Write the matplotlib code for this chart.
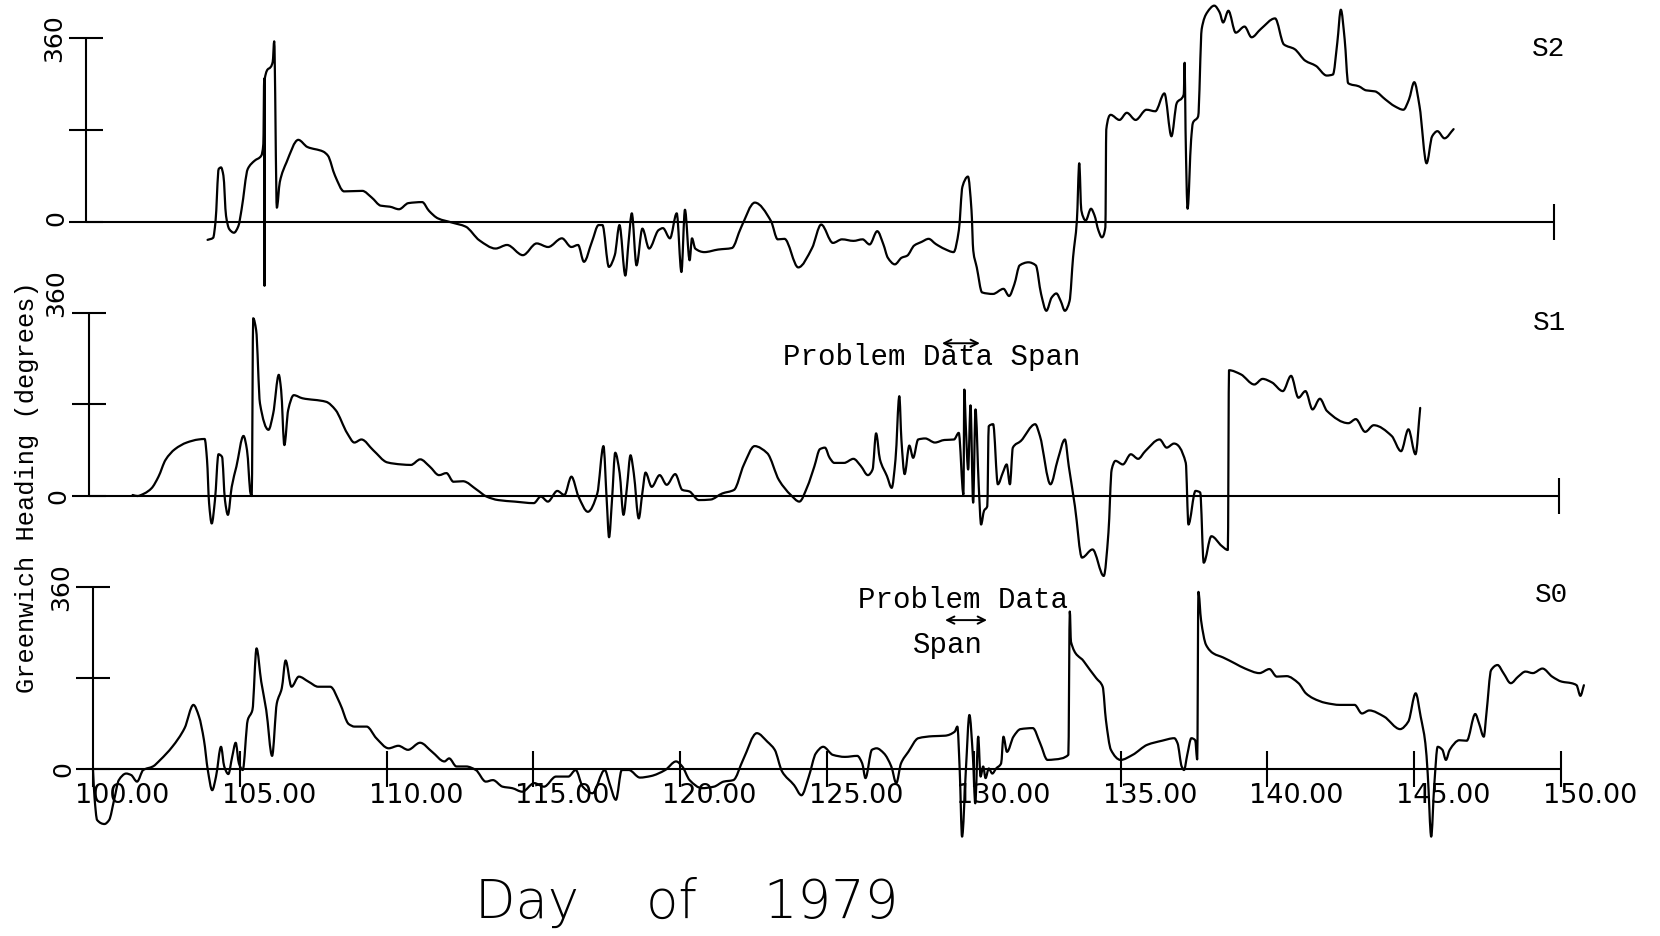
import numpy as np
import matplotlib
matplotlib.use("Agg")
import matplotlib.pyplot as plt
from matplotlib.path import Path
from matplotlib.patches import PathPatch
from matplotlib.transforms import offset_copy

# ---------------------------------------------------------------
# Greenwich heading of the three sensors, day of 1979 vs degrees
# ---------------------------------------------------------------
s2_day = [104.14, 104.33, 104.41, 104.52, 104.60, 104.68, 104.77, 104.88, 105.04, 105.19,
          105.30, 105.51, 105.74, 105.97, 106.04, 106.07, 106.08, 106.09, 106.36, 106.41,
          106.50, 106.60, 106.83, 107.23, 107.54, 108.08, 108.24, 108.48, 108.79, 109.41,
          109.73, 110.04, 110.35, 110.66, 110.98, 111.45, 111.68, 111.99, 112.46, 112.93,
          113.40, 113.95, 114.34, 114.88, 115.35, 115.74, 116.21, 116.53, 116.76, 116.96,
          117.23, 117.46, 117.59, 117.81, 118.01, 118.17, 118.37, 118.48, 118.59, 118.75,
          118.95, 119.18, 119.50, 119.65, 119.89, 120.12, 120.28, 120.40, 120.56, 120.64,
          120.75, 121.06, 121.53, 122.00, 122.31, 122.78, 123.33, 123.56, 123.79, 124.26,
          124.73, 125.04, 125.44, 125.75, 126.14, 126.45, 126.69, 126.95, 127.16, 127.31,
          127.55, 127.78, 127.97, 128.21, 128.46, 128.70, 128.94, 129.25, 129.55, 129.73,
          129.85, 130.04, 130.16, 130.22, 130.34, 130.52, 130.89, 131.25, 131.44, 131.62,
          131.80, 132.10, 132.35, 132.53, 132.71, 132.89, 133.05, 133.20, 133.34, 133.50,
          133.62, 133.75, 133.83, 133.90, 134.05, 134.23, 134.35, 134.48, 134.60, 134.72,
          134.75, 134.90, 135.20, 135.45, 135.75, 136.12, 136.42, 136.73, 136.97, 137.15,
          137.39, 137.42, 137.45, 137.52, 137.64, 137.70, 137.88, 138.00, 138.19, 138.43,
          138.61, 138.73, 138.91, 139.16, 139.46, 139.70, 140.01, 140.50, 140.80, 141.16,
          141.53, 141.89, 142.26, 142.47, 142.62, 142.74, 142.87, 142.99, 143.35, 143.60,
          143.90, 144.26, 144.57, 144.87, 145.06, 145.24, 145.42, 145.66, 145.85, 146.03,
          146.27, 146.58]
s2_deg = [-35, -31, 0, 104, 107, 91, 12, -14, -21, -8,
          25, 104, 120, 130, 153, 281, -125, 281, 314, 354,
          28, 78, 117, 161, 147, 138, 130, 91, 60, 61,
          48, 32, 30, 25, 37, 39, 22, 7, -1, -9,
          -36, -52, -45, -65, -42, -49, -32, -49, -45, -78,
          -39, -6, -6, -88, -65, -6, -105, -39, 17, -85,
          -13, -52, -16, -12, -32, 17, -98, 24, -75, -32,
          -52, -59, -54, -51, -11, 38, 2, -34, -33, -89,
          -51, -5, -41, -34, -37, -34, -44, -18, -44, -70,
          -83, -70, -66, -46, -39, -33, -43, -53, -59, -16,
          69, 89, 23, -56, -89, -138, -141, -131, -145, -122,
          -85, -79, -85, -141, -174, -148, -140, -155, -174, -155,
          -69, 3, 115, 23, 3, 26, 13, -16, -30, -10,
          181, 210, 200, 214, 200, 220, 217, 252, 168, 233,
          250, 312, 181, 26, 161, 194, 207, 378, 411, 424,
          411, 391, 414, 371, 383, 362, 378, 399, 348, 339,
          316, 306, 287, 289, 352, 416, 358, 272, 266, 258,
          256, 240, 227, 220, 240, 274, 227, 115, 168, 178,
          164, 182]

s1_day = [101.50, 101.66, 101.90, 102.14, 102.38, 102.62, 102.94, 103.34, 103.74, 103.95,
          104.03, 104.10, 104.19, 104.30, 104.42, 104.54, 104.64, 104.74, 104.87, 105.03,
          105.27, 105.39, 105.51, 105.55, 105.60, 105.70, 105.83, 106.12, 106.28, 106.47,
          106.55, 106.66, 106.79, 106.98, 107.27, 108.08, 108.40, 108.80, 109.04, 109.28,
          109.68, 110.16, 110.64, 110.96, 111.28, 111.60, 111.92, 112.17, 112.41, 112.73,
          113.21, 113.53, 113.93, 114.49, 115.14, 115.38, 115.62, 115.94, 116.18, 116.42,
          116.66, 116.98, 117.30, 117.51, 117.62, 117.70, 117.80, 117.91, 118.06, 118.19,
          118.31, 118.43, 118.54, 118.71, 118.83, 118.94, 119.15, 119.42, 119.66, 119.95,
          120.19, 120.43, 120.75, 121.15, 121.55, 121.95, 122.28, 122.65, 123.08, 123.48,
          123.88, 124.17, 124.44, 124.68, 124.87, 125.04, 125.20, 125.36, 125.69, 126.01,
          126.26, 126.50, 126.66, 126.78, 126.91, 127.15, 127.31, 127.44, 127.57, 127.64,
          127.75, 127.91, 128.04, 128.21, 128.45, 128.78, 129.10, 129.43, 129.59, 129.75,
          129.78, 129.83, 129.91, 129.99, 130.08, 130.16, 130.27, 130.35, 130.45, 130.56,
          130.61, 130.76, 130.92, 131.09, 131.22, 131.33, 131.43, 131.70, 132.19, 132.35,
          132.71, 132.96, 133.20, 133.33, 133.54, 133.78, 134.14, 134.52, 134.68, 134.79,
          134.92, 135.17, 135.44, 135.69, 135.93, 136.42, 136.66, 136.91, 137.31, 137.40,
          137.64, 137.80, 137.92, 138.18, 138.53, 138.74, 138.78, 139.18, 139.64, 139.92,
          140.24, 140.61, 140.89, 141.14, 141.38, 141.62, 141.87, 142.11, 142.84, 143.09,
          143.41, 143.70, 144.31, 144.63, 144.88, 145.12, 145.28]
s1_deg = [2, 0, 5, 15, 38, 71, 92, 105, 111, 112,
          71, -14, -54, -8, 82, 77, -8, -37, 18, 58,
          118, 90, 5, 0, 349, 326, 182, 130, 162, 238,
          208, 100, 169, 198, 192, 185, 169, 123, 105, 111,
          90, 66, 62, 61, 72, 58, 41, 45, 28, 29,
          12, -1, -8, -11, -14, -1, -11, 10, 2, 38,
          -1, -31, 5, 98, -8, -81, -8, 85, 45, -37,
          18, 80, 45, -44, 5, 46, 18, 41, 22, 43,
          12, 9, -8, -7, 5, 12, 61, 98, 84, 31,
          2, -11, 18, 58, 92, 95, 75, 65, 65, 73,
          59, 41, 52, 123, 72, 39, 16, 72, 196, 111,
          43, 99, 75, 111, 113, 105, 110, 111, 124, 3,
          209, 137, 52, 178, -13, 170, 20, -56, -29, -20,
          137, 141, 23, 46, 62, 23, 95, 108, 141, 118,
          23, 72, 111, 59, -20, -121, -105, -157, -72, 52,
          69, 62, 82, 73, 88, 111, 95, 103, 65, -56,
          10, 7, -131, -79, -98, -106, 247, 239, 219, 230,
          223, 206, 236, 193, 206, 170, 191, 167, 143, 151,
          126, 139, 118, 88, 131, 82, 173]

s0_day = [100.00, 100.05, 100.14, 100.39, 100.55, 100.72, 100.88, 101.13, 101.30, 101.50,
          101.71, 102.04, 102.29, 102.70, 103.12, 103.42, 103.61, 103.78, 103.91, 104.06,
          104.19, 104.36, 104.47, 104.61, 104.74, 104.86, 104.97, 105.10, 105.27, 105.43,
          105.57, 105.73, 105.90, 106.10, 106.26, 106.43, 106.56, 106.76, 107.01, 107.34,
          107.67, 108.08, 108.41, 108.71, 108.91, 109.32, 109.65, 110.07, 110.40, 110.73,
          111.14, 111.55, 111.97, 112.13, 112.38, 112.71, 113.04, 113.38, 113.62, 113.95,
          114.28, 114.62, 115.03, 115.36, 115.77, 116.19, 116.44, 116.68, 117.01, 117.43,
          117.59, 117.81, 118.01, 118.25, 118.63, 119.00, 119.49, 119.86, 120.07, 120.32,
          120.74, 121.15, 121.48, 121.81, 122.14, 122.61, 122.97, 123.22, 123.47, 123.88,
          124.13, 124.38, 124.62, 124.87, 125.20, 125.61, 126.03, 126.20, 126.31, 126.53,
          126.69, 126.94, 127.19, 127.36, 127.52, 127.77, 128.11, 128.60, 129.02, 129.35,
          129.44, 129.52, 129.60, 129.73, 129.85, 129.97, 130.05, 130.15, 130.23, 130.32,
          130.40, 130.51, 130.63, 130.76, 130.93, 131.01, 131.13, 131.35, 131.59, 132.01,
          132.26, 132.51, 132.76, 133.22, 133.27, 133.31, 133.75, 134.17, 134.39, 134.50,
          134.67, 135.00, 135.41, 135.91, 136.41, 136.83, 136.94, 137.08, 137.16, 137.27,
          137.41, 137.54, 137.61, 137.65, 137.74, 137.91, 138.16, 138.49, 138.90, 139.24,
          139.73, 140.07, 140.32, 140.65, 141.06, 141.31, 141.56, 141.98, 142.47, 142.97,
          143.22, 143.47, 143.97, 144.52, 144.80, 145.05, 145.22, 145.38, 145.46, 145.58,
          145.68, 145.80, 145.96, 146.08, 146.21, 146.54, 146.79, 147.08, 147.21, 147.37,
          147.46, 147.62, 147.84, 148.04, 148.29, 148.54, 148.79, 149.04, 149.37, 149.70,
          150.03, 150.36, 150.53, 150.66, 150.78]
s0_deg = [-2, -55, -101, -109, -101, -61, -22, -9, -12, -25,
          -2, 5, 18, 44, 81, 127, 104, 57, -2, -42,
          -15, 44, 5, -10, 24, 52, 11, -2, 97, 117,
          239, 173, 117, 26, 130, 160, 215, 163, 183, 173,
          163, 163, 130, 89, 84, 84, 61, 41, 46, 38,
          52, 34, 15, 21, 5, 5, -2, -25, -22, -35,
          -38, -45, -28, -35, -15, -15, -2, -35, -48, -2,
          -28, -61, -2, -2, -17, -14, -2, 15, 5, -22,
          -38, -35, -25, -22, 18, 71, 54, 38, -5, -32,
          -52, -15, 31, 44, 28, 24, 26, 11, -18, 38,
          41, 31, 5, -28, 11, 34, 61, 65, 66, 74,
          84, -2, -134, -2, 107, 24, -68, 64, -15, 5,
          -18, 1, -9, 1, 11, 64, 34, 64, 79, 81,
          51, 18, 19, 28, 312, 252, 213, 180, 163, 97,
          38, 18, 28, 48, 56, 61, 51, 5, -2, 28,
          61, 57, 19, 351, 295, 246, 229, 221, 209, 199,
          190, 198, 183, 184, 170, 150, 140, 131, 127, 127,
          110, 116, 104, 79, 94, 150, 104, 51, -9, -134,
          -35, 44, 38, 18, 38, 57, 56, 109, 90, 64,
          110, 196, 206, 190, 170, 183, 193, 190, 199, 183,
          173, 170, 166, 145, 166]

tick_days = [100, 105, 110, 115, 120, 125, 130, 135, 140, 145, 150]
tick_labels = ["100.00", "105.00", "110.00", "115.00", "120.00", "125.00",
               "130.00", "135.00", "140.00", "145.00", "150.00"]
sensor_names = ["S2", "S1", "S0"]

W, H = 1660, 936
fig = plt.figure(figsize=(W / 100, H / 100), dpi=100)
fig.patch.set_facecolor("white")

MONO = "Liberation Mono"
INK = "black"


def panel(x100, x150, y0, y360):
    """Transparent axes spanning the figure, placed so that day 100/150 and
    heading 0/360 fall on the given pixel positions (y measured from top)."""
    sx = (x150 - x100) / 50.0
    sy = (y0 - y360) / 360.0
    xmin = 100 - x100 / sx
    ymin = -(H - y0) / sy
    ax = fig.add_axes([0, 0, 1, 1])
    ax.set_xlim(xmin, xmin + W / sx)
    ax.set_ylim(ymin, ymin + H / sy)
    ax.axis("off")
    ax.patch.set_alpha(0)
    return ax, sx, sy


def frame(ax, sx, sy, all_ticks):
    half_w = 17 / sx          # half length of heading ticks, in days
    half_h = 18 / sy          # half length of day ticks, in degrees
    kw = dict(color=INK, lw=1.5, solid_capstyle="butt")
    ax.plot([100, 100], [-half_h if all_ticks else 0, 360], **kw)
    for v in (0, 180, 360):
        ax.plot([100 - half_w, 100 + half_w], [v, v], **kw)
    ax.plot([100, 150], [0, 0], **kw)
    days = tick_days[1:] if all_ticks else [150]
    for d in days:
        ax.plot([d, d], [-half_h, half_h], **kw)


def pen_trace(ax, days, degs):
    """Draw the record as a smooth pen trace: cubic Bezier segments with
    monotone (shape preserving) tangents, so no overshoot between readings."""
    x = np.asarray(days, float)
    y = np.asarray(degs, float)
    h = np.diff(x)
    d = np.diff(y) / h
    m = np.zeros_like(y)
    m[0], m[-1] = d[0], d[-1]
    for k in range(1, len(x) - 1):
        if d[k - 1] * d[k] > 0:
            w1 = 2 * h[k] + h[k - 1]
            w2 = h[k] + 2 * h[k - 1]
            m[k] = (w1 + w2) / (w1 / d[k - 1] + w2 / d[k])
    verts = [(x[0], y[0])]
    codes = [Path.MOVETO]
    for k in range(len(x) - 1):
        t = h[k] / 3.0
        verts += [(x[k] + t, y[k] + m[k] * t),
                  (x[k + 1] - t, y[k + 1] - m[k + 1] * t),
                  (x[k + 1], y[k + 1])]
        codes += [Path.CURVE4] * 3
    ax.add_patch(PathPatch(Path(verts, codes), fill=False, edgecolor=INK,
                           lw=1.6, joinstyle="round", capstyle="round"))


# panel geometry in figure pixels: (day 100, day 150, heading 0, heading 360)
ax2, sx2, sy2 = panel(86, 1554, 222, 38.3)
ax1, sx1, sy1 = panel(88.5, 1559, 496, 312.7)
ax0, sx0, sy0 = panel(93, 1561, 769, 587.3)

frame(ax2, sx2, sy2, False)
frame(ax1, sx1, sy1, False)
frame(ax0, sx0, sy0, True)

pen_trace(ax2, s2_day, s2_deg)
pen_trace(ax1, s1_day, s1_deg)
pen_trace(ax0, s0_day, s0_deg)

# heading labels on the left of each panel
num_font = dict(family="DejaVu Sans", fontsize=18, color=INK, rotation=90,
                ha="center", va="center")
for ax, up360, up0 in ((ax2, 0, 4), (ax1, 20, 0), (ax0, 0, 0)):
    ax.text(100, 360, "360", transform=offset_copy(ax.transData, fig, x=-32, y=up360,
                                                   units="dots"), **num_font)
    ax.text(100, 0, "0", transform=offset_copy(ax.transData, fig, x=-30, y=up0,
                                               units="dots"), **num_font)

# day labels under the bottom panel
lab_tr = offset_copy(ax0.transData, fig, x=-18, y=-27, units="dots")
for d, lab in zip(tick_days, tick_labels):
    ax0.text(d, 0, lab, transform=lab_tr, family="DejaVu Sans", fontsize=19.5,
             color=INK, ha="left", va="center")

# sensor names
for ax, name, (d, v) in zip((ax2, ax1, ax0), sensor_names,
                            ((149.25, 325), (149.12, 326), (149.11, 331))):
    ax.text(d, v, name, family=MONO, fontsize=20, color=INK, ha="left", va="baseline")

# problem data span annotations
arrow = dict(arrowstyle="<->", color=INK, lw=1.4, shrinkA=0, shrinkB=0,
             mutation_scale=13)
ax1.text(123.61, 257, "Problem Data Span", family=MONO, fontsize=21, color=INK,
         ha="left", va="baseline")
ax1.annotate("", xy=(130.31, 300), xytext=(129.02, 300), arrowprops=arrow)
ax0.text(126.06, 319, "Problem Data", family=MONO, fontsize=21, color=INK,
         ha="left", va="baseline")
ax0.annotate("", xy=(130.45, 295), xytext=(129.02, 295), arrowprops=arrow)
ax0.text(127.93, 230, "Span", family=MONO, fontsize=21, color=INK,
         ha="left", va="baseline")

# axis titles
fig.text(27 / W, 1 - 487 / H, "Greenwich Heading (degrees)", family=MONO,
         fontsize=18.3, color=INK, rotation=90, ha="center", va="center")
fig.text(687 / W, 1 - 918 / H, "Day    of    1979", family="DejaVu Sans",
         fontsize=38, fontweight="light", color=INK, ha="center", va="baseline")

fig.savefig("out.png", dpi=100, facecolor="white")
